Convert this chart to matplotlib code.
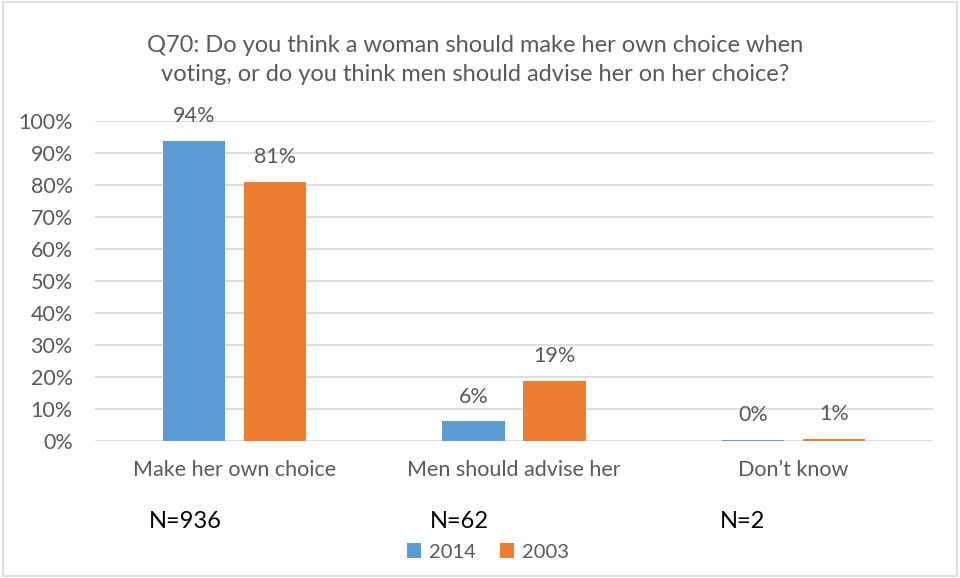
import matplotlib.pyplot as plt
import numpy as np
from matplotlib.patches import Rectangle

categories = ["Make her own choice", "Men should advise her", "Don\u2019t know"]
values_2014 = [93.6, 6.1, 0.45]
values_2003 = [81.0, 18.8, 0.6]
labels_2014 = ["94%", "6%", "0%"]
labels_2003 = ["81%", "19%", "1%"]
n_labels = ["N=936", "N=62", "N=2"]
series = ["2014", "2003"]

blue = "#5B9BD5"
orange = "#ED7D31"
grey = "#595959"

plt.rcParams['font.family'] = ['Lato', 'DejaVu Sans']

fig = plt.figure(figsize=(9.6, 5.78), dpi=100)
fig.patches.append(Rectangle((0.003, 0.003), 0.994, 0.994, transform=fig.transFigure,
                             fill=False, edgecolor="#D9D9D9", linewidth=1.2))
ax = fig.add_axes([0.099, 0.237, 0.873, 0.554])

x = np.arange(len(categories))
w = 0.223
off = 0.145
ax.bar(x - off, values_2014, w, color=blue, label=series[0], zorder=3)
ax.bar(x + off, values_2003, w, color=orange, label=series[1], zorder=3)

for xi, v, t in zip(x, values_2014, labels_2014):
    ax.text(xi - off, v + 7.8, t, ha="center", va="center", fontsize=15.5, color=grey)
for xi, v, t in zip(x, values_2003, labels_2003):
    ax.text(xi + off, v + 7.8, t, ha="center", va="center", fontsize=15.5, color=grey)

ax.set_xlim(-0.5, 2.5)
ax.set_ylim(0, 100)
ax.set_yticks(np.arange(0, 101, 10))
ax.set_yticklabels([f"{t}%" for t in range(0, 101, 10)])
ax.set_xticks(x)
ax.set_xticklabels(categories)
ax.tick_params(axis="both", length=0, labelsize=15.5, colors=grey)
ax.tick_params(axis="x", pad=14)
ax.tick_params(axis="y", pad=16)
ax.grid(axis="y", color="#D9D9D9", linewidth=1.2, zorder=0)
for s in ax.spines.values():
    s.set_visible(False)

# N counts under each category
n_x = [185, 459, 743]
for px, t in zip(n_x, n_labels):
    fig.text(px / 960, 1 - 521 / 578, t, ha="center", va="center", fontsize=17, color="black")

fig.text(475 / 960, 1 - 60 / 578,
         "Q70: Do you think a woman should make her own choice when\n"
         "voting, or do you think men should advise her on her choice?",
         ha="center", va="center", fontsize=17, color=grey, linespacing=1.45)

fig.legend(loc="center", bbox_to_anchor=(488 / 960, 1 - 552 / 578), ncol=2, frameon=False,
           fontsize=14.5, labelcolor=grey, handlelength=0.7, handleheight=0.7,
           handletextpad=0.4, columnspacing=1.2)

fig.savefig("out.png", dpi=100)
